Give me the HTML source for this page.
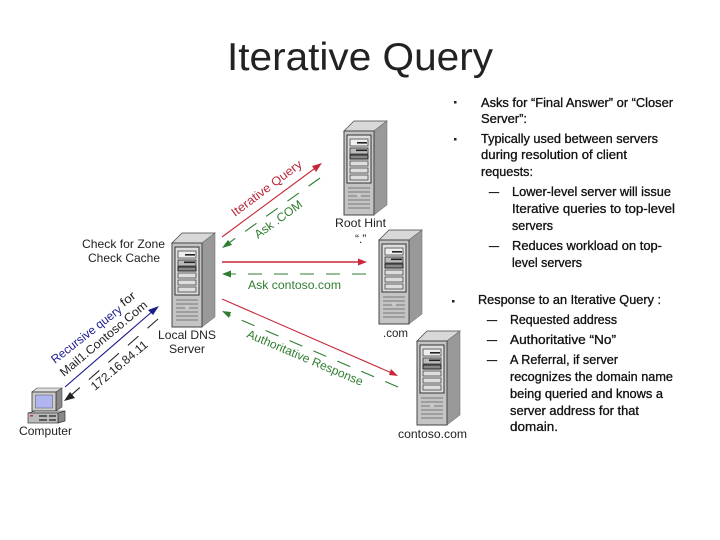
<!DOCTYPE html>
<html><head><meta charset="utf-8"><style>
html,body{margin:0;padding:0;background:#fff;width:720px;height:540px;overflow:hidden}
svg{display:block}
.t{font-family:"Liberation Sans",sans-serif;font-size:12px;fill:#222}
.b{font-family:"Liberation Sans",sans-serif;font-size:12.5px;fill:#111;stroke:#111;stroke-width:.3}
</style></head><body>
<svg width="720" height="540" viewBox="0 0 720 540" xmlns="http://www.w3.org/2000/svg">
<defs>
<g id="srv">
<polygon points="0,10 10,0 43,0 30,10" fill="#d8d8d8" stroke="#444" stroke-width=".7"/>
<polygon points="30,10 43,0 43,84 30,94" fill="#999" stroke="#666" stroke-width=".5"/>
<rect x="0" y="10" width="30" height="84" fill="#c4c4c4" stroke="#444" stroke-width="1"/>
<rect x="3" y="14" width="24" height="48" fill="#ddd" stroke="#333" stroke-width="1"/>
<rect x="6" y="18" width="18" height="7" fill="#eee" stroke="#444" stroke-width=".8"/>
<rect x="13" y="21" width="10" height="1.6" fill="#222"/>
<rect x="6" y="27" width="18" height="6" fill="#bbb" stroke="#333" stroke-width=".8"/>
<rect x="12" y="28.5" width="11" height="1.6" fill="#222"/>
<rect x="6" y="34" width="18" height="4" fill="#888" stroke="#222" stroke-width="1"/>
<rect x="6" y="40" width="18" height="5" fill="#ddd" stroke="#444" stroke-width=".8"/>
<rect x="6" y="47" width="18" height="5" fill="#ddd" stroke="#444" stroke-width=".8"/>
<rect x="6" y="54" width="18" height="5" fill="#ddd" stroke="#444" stroke-width=".8"/>
<g stroke="#777" stroke-width="1">
<path d="M4 67H26M4 71H26M4 75H26M4 79H26M4 83H26M4 87H26"/>
</g>
<circle cx="15" cy="74" r="2" fill="#ccc"/>
</g>
</defs>

<text x="227" y="70" font-family="'Liberation Sans',sans-serif" font-size="39" fill="#222" textLength="266" lengthAdjust="spacingAndGlyphs">Iterative Query</text>

<use href="#srv" x="344" y="121"/>
<use href="#srv" x="379" y="230"/>
<use href="#srv" x="417" y="331"/>
<use href="#srv" x="172" y="233"/>

<!-- computer -->
<g>
<polygon points="32,392 37,388 62,388 56,392" fill="#ddd" stroke="#444" stroke-width=".6"/>
<polygon points="56,392 62,388 62,407 56,411" fill="#888" stroke="#444" stroke-width=".6"/>
<rect x="32" y="392" width="24" height="19" fill="#ccc" stroke="#333" stroke-width=".8"/>
<rect x="35.5" y="395" width="17" height="13" fill="#b0b4f0" stroke="#555" stroke-width=".5"/>
<polygon points="58,413 65,411 65,421 58,423" fill="#888" stroke="#333" stroke-width=".7"/>
<polygon points="28,413 35,411 65,411 58,413" fill="#ccc" stroke="#333" stroke-width=".6"/>
<rect x="28" y="413" width="30" height="10" fill="#bbb" stroke="#333" stroke-width=".7"/>
<path d="M39 416H47M39 420H47M49 416H56M49 420H56" stroke="#222" stroke-width="1.2"/>
<rect x="30" y="415" width="3" height="1.5" fill="#c33"/>
</g>

<!-- arrows -->
<g fill="none" stroke-width="1.1">
<line x1="222" y1="237" x2="318" y2="166" stroke="#c8283a"/>
<line x1="320" y1="178" x2="226" y2="245" stroke="#2f7d2f" stroke-dasharray="14 12"/>
<line x1="222" y1="262" x2="362" y2="262" stroke="#c8283a" stroke-width="1.4"/>
<line x1="366" y1="274" x2="226" y2="274" stroke="#2f7d2f" stroke-dasharray="14 12"/>
<line x1="222" y1="299" x2="394" y2="374" stroke="#c8283a"/>
<line x1="398" y1="387" x2="227" y2="314" stroke="#2f7d2f" stroke-dasharray="14 12"/>
<line x1="65" y1="387" x2="154" y2="310" stroke="#1c1c8c"/>
<line x1="158" y1="319" x2="69" y2="397" stroke="#222" stroke-dasharray="14 12"/>
</g>
<polygon points="322,163 316,172 312,166" fill="#c8283a"/>
<polygon points="222,248 228,240 232,245" fill="#2f7d2f"/>
<polygon points="367,262 358,258.5 358,265.5" fill="#c8283a"/>
<polygon points="222,274 231,270.5 231,277.5" fill="#2f7d2f"/>
<polygon points="398,376 389,375 391,369" fill="#c8283a"/>
<polygon points="222,311 231,312 229,318" fill="#2f7d2f"/>
<polygon points="159,306 153,315 148,310" fill="#1c1c8c"/>
<polygon points="64,401 70,392 75,398" fill="#222"/>

<!-- diagram labels -->
<text class="t" x="82" y="248" textLength="83" lengthAdjust="spacingAndGlyphs">Check for Zone</text>
<text class="t" x="88" y="262" textLength="72" lengthAdjust="spacingAndGlyphs">Check Cache</text>
<text class="t" x="158" y="339" textLength="58" lengthAdjust="spacingAndGlyphs">Local DNS</text>
<text class="t" x="169" y="353" textLength="36" lengthAdjust="spacingAndGlyphs">Server</text>
<text class="t" x="335" y="227" textLength="51" lengthAdjust="spacingAndGlyphs">Root Hint</text>
<text class="t" x="355" y="243" font-size="11">“.”</text>
<text class="t" x="383" y="337" textLength="25" lengthAdjust="spacingAndGlyphs">.com</text>
<text class="t" x="398" y="438" textLength="69" lengthAdjust="spacingAndGlyphs">contoso.com</text>
<text class="t" x="19" y="435" textLength="53" lengthAdjust="spacingAndGlyphs">Computer</text>
<text class="t" x="248" y="289" style="fill:#2f7d2f" textLength="93" lengthAdjust="spacingAndGlyphs">Ask contoso.com</text>

<text class="t" style="fill:#b8283a" transform="translate(235,217) rotate(-37)" textLength="85" lengthAdjust="spacingAndGlyphs">Iterative Query</text>
<text class="t" style="fill:#2f7d2f" transform="translate(258,239) rotate(-36)" textLength="56" lengthAdjust="spacingAndGlyphs">Ask .COM</text>
<text class="t" style="fill:#2f7d2f" transform="translate(246,337) rotate(23)" textLength="125" lengthAdjust="spacingAndGlyphs">Authoritative Response</text>
<text class="t" style="fill:#1c1c8c" transform="translate(55,364) rotate(-38)" textLength="86" lengthAdjust="spacingAndGlyphs">Recursive query</text>
<text class="t" transform="translate(124,307) rotate(-38)" textLength="16" lengthAdjust="spacingAndGlyphs">for</text>
<text class="t" transform="translate(64,377) rotate(-40)" textLength="110" lengthAdjust="spacingAndGlyphs">Mail1.Contoso.Com</text>
<text class="t" transform="translate(95,391) rotate(-40)" textLength="70" lengthAdjust="spacingAndGlyphs">172.16.84.11</text>

<!-- bullets -->
<rect x="454" y="101" width="2.5" height="2.5" fill="#222"/>
<rect x="454" y="138" width="2.5" height="2.5" fill="#222"/>
<rect x="452" y="300" width="2.5" height="2.5" fill="#222"/>

<text class="b" x="481" y="107" textLength="192" lengthAdjust="spacingAndGlyphs">Asks for “Final Answer” or “Closer</text>
<text class="b" x="481" y="123" textLength="46" lengthAdjust="spacingAndGlyphs">Server”:</text>
<text class="b" x="481" y="143" textLength="177" lengthAdjust="spacingAndGlyphs">Typically used between servers</text>
<text class="b" x="481" y="159" textLength="146" lengthAdjust="spacingAndGlyphs">during resolution of client</text>
<text class="b" x="481" y="176" textLength="52" lengthAdjust="spacingAndGlyphs">requests:</text>
<text class="b" x="489" y="196" textLength="10" lengthAdjust="spacingAndGlyphs">–</text>
<text class="b" x="512" y="196" textLength="159" lengthAdjust="spacingAndGlyphs">Lower-level server will issue</text>
<text class="b" x="512" y="213" textLength="163" lengthAdjust="spacingAndGlyphs">Iterative queries to top-level</text>
<text class="b" x="512" y="230" textLength="41" lengthAdjust="spacingAndGlyphs">servers</text>
<text class="b" x="489" y="250" textLength="10" lengthAdjust="spacingAndGlyphs">–</text>
<text class="b" x="512" y="250" textLength="150" lengthAdjust="spacingAndGlyphs">Reduces workload on  top-</text>
<text class="b" x="512" y="267" textLength="70" lengthAdjust="spacingAndGlyphs">level servers</text>

<text class="b" x="478" y="304" textLength="183" lengthAdjust="spacingAndGlyphs">Response to an Iterative Query :</text>
<text class="b" x="487" y="324" textLength="10" lengthAdjust="spacingAndGlyphs">–</text>
<text class="b" x="510" y="324" textLength="107" lengthAdjust="spacingAndGlyphs">Requested address</text>
<text class="b" x="487" y="344" textLength="10" lengthAdjust="spacingAndGlyphs">–</text>
<text class="b" x="510" y="344" textLength="106" lengthAdjust="spacingAndGlyphs">Authoritative “No”</text>
<text class="b" x="487" y="364" textLength="10" lengthAdjust="spacingAndGlyphs">–</text>
<text class="b" x="510" y="364" textLength="108" lengthAdjust="spacingAndGlyphs">A Referral, if server</text>
<text class="b" x="510" y="381" textLength="163" lengthAdjust="spacingAndGlyphs">recognizes the domain name</text>
<text class="b" x="510" y="398" textLength="153" lengthAdjust="spacingAndGlyphs">being queried and knows a</text>
<text class="b" x="510" y="415" textLength="129" lengthAdjust="spacingAndGlyphs">server address for that</text>
<text class="b" x="510" y="431" textLength="48" lengthAdjust="spacingAndGlyphs">domain.</text>
</svg>
</body></html>
